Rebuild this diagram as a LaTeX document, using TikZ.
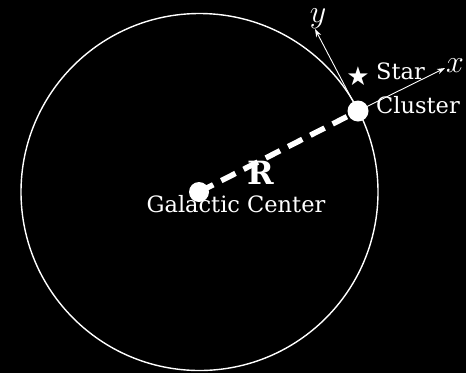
\RequirePackage{fix-cm}
\documentclass[tikz,border=0pt]{standalone}
\usepackage{fontspec}
\setmainfont{DejaVu Serif}
\newfontfamily\symfont{DejaVu Sans}
\usetikzlibrary{arrows.meta}
\begin{document}
\begin{tikzpicture}[x=1pt,y=-1pt,
  lbl/.style={text=white,inner sep=0pt,font=\fontsize{22.5}{26}\selectfont},
  axlbl/.style={text=white,inner sep=0pt,font=\fontsize{32}{32}\selectfont},
  axis/.style={draw=white,line width=0.9pt,-{Stealth[length=8pt,width=5.5pt]}},
  dot/.style={circle,fill=white,inner sep=0pt}]
\fill[black] (0,0) rectangle (466,373);
\useasboundingbox (0,0) rectangle (466,373);
\node[draw=white,line width=1.4pt,circle,minimum size=357pt,inner sep=0pt] (orbit) at (199.5,192) {};
\node[dot,minimum size=20pt] (gc) at (199,192) {};
\node[dot,minimum size=21pt] (cl) at (358,111) {};
\draw[white,line width=5.5pt,dash pattern=on 16pt off 9pt] (gc.center) -- (cl.center);
\coordinate (xe) at (445,68);
\coordinate (ye) at (315,29);
\draw[axis] (cl.center) -- (xe);
\draw[axis] (cl.center) -- (ye);
\node[axlbl] (xl) at (455,66) {$x$};
\node[axlbl] (yl) at (318,19) {$y$};
\node[text=white,inner sep=0pt,font=\symfont\fontsize{26}{26}\selectfont] (st) at (358,76) {★};
\node[lbl,anchor=base west] (stl) at (376,79) {Star};
\node[lbl,anchor=base west] (cll) at (376,113) {Cluster};
\node[lbl,anchor=base] (gcl) at (236,212) {Galactic Center};
\node[lbl,anchor=base,font=\bfseries\fontsize{32}{32}\selectfont] (rl) at (261,184) {R};
\end{tikzpicture}
\end{document}
